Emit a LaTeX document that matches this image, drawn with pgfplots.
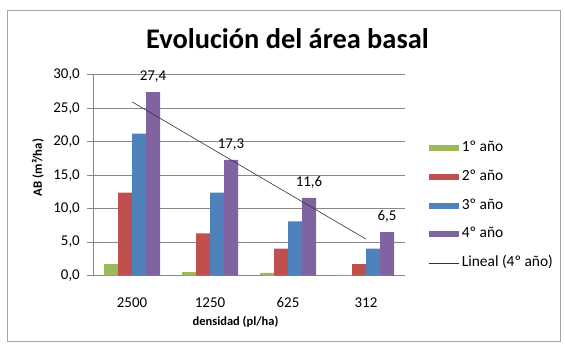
\documentclass[border=0pt]{standalone}
\usepackage{fontspec}
\setmainfont{Carlito}
\usepackage{pgfplots}
\pgfplotsset{compat=1.18}

\definecolor{c1}{HTML}{9BBB59}
\definecolor{c2}{HTML}{C0504D}
\definecolor{c3}{HTML}{4F81BD}
\definecolor{c4}{HTML}{8064A2}
\definecolor{gridc}{HTML}{878787}

\pgfplotsset{
  barleg/.style={legend image code/.code={\fill[##1] (0bp,-3bp) rectangle (30bp,3bp);}},
  lineleg/.style={legend image code/.code={\draw[##1] (0bp,0bp) -- (30bp,0bp);}},
}

\begin{document}
\begin{tikzpicture}[x=1bp,y=1bp]
  % page and outer frame
  \path (0,0) rectangle (565,343);
  \draw[gray!70, line width=0.8bp] (7,2) rectangle (560,333);

  \node[anchor=base, font=\fontsize{28.5}{32}\selectfont\bfseries] at (287.5,294.7) {Evolución del área basal};

  \begin{axis}[
      at={(93bp,67.5bp)}, anchor=south west,
      scale only axis,
      width=312bp, height=200.7bp,
      xmin=-0.5, xmax=3.5,
      ymin=0, ymax=30,
      ytick={0,5,...,30},
      xtick=data,
      xticklabels={2500,1250,625,312},
      ymajorgrids,
      major grid style={draw=gridc, line width=0.6bp},
      axis x line*=bottom, axis y line*=left,
      axis line style={draw=gridc, line width=0.6bp, -},
      tick align=outside,
      major tick length=6bp,
      ytick style={draw=gridc, line width=0.6bp},
      xtick style={draw=none},
      /pgf/number format/.cd, fixed, fixed zerofill, precision=1, use comma, assume math mode=true,
      /pgfplots/.cd,
      ticklabel style={font=\fontsize{15}{18}\selectfont},
      yticklabel style={anchor=east, inner sep=0pt, xshift=-7bp},
      xticklabel style={anchor=base, inner sep=0pt, yshift=-26bp},
      ybar=0pt, bar width=14bp,
      clip=false,
      legend style={draw=none, fill=none, at={(1.0737,0.3485)}, anchor=west,
        inner sep=0pt, row sep=15.7bp, column sep=3bp,
        font=\fontsize{15.5}{18}\selectfont,
        nodes={inner sep=0pt, anchor=west, text height=10bp, text depth=3bp}},
      legend cell align=left,
    ]
    \addplot[fill=c1, draw=none, barleg] coordinates {(0,1.7) (1,0.5) (2,0.4) (3,0.1)};
    \addlegendentry{1º año}
    \addplot[fill=c2, draw=none, barleg] coordinates {(0,12.4) (1,6.3) (2,4.0) (3,1.7)};
    \addlegendentry{2º año}
    \addplot[fill=c3, draw=none, barleg] coordinates {(0,21.2) (1,12.4) (2,8.1) (3,4.0)};
    \addlegendentry{3º año}
    \addplot[fill=c4, draw=none, barleg,
      nodes near coords,
      every node near coord/.append style={anchor=base, inner sep=0pt, yshift=11.6bp,
        font=\fontsize{15}{18}\selectfont}]
      coordinates {(0,27.4) (1,17.3) (2,11.6) (3,6.5)};
    \addlegendentry{4º año}
    \addplot[sharp plot, draw=black!80, line width=0.6bp, lineleg]
      coordinates {(0,25.96) (3,5.44)};
    \addlegendentry{Lineal (4º año)}
  \end{axis}

  \node[anchor=base, font=\fontsize{12.5}{15}\selectfont\bfseries] at (235.5,17.3) {densidad (pl/ha)};
  \node[rotate=90, font=\fontsize{12.8}{15}\selectfont\bfseries] at (38,175.5) {AB (m²/ha)};
\end{tikzpicture}
\end{document}
